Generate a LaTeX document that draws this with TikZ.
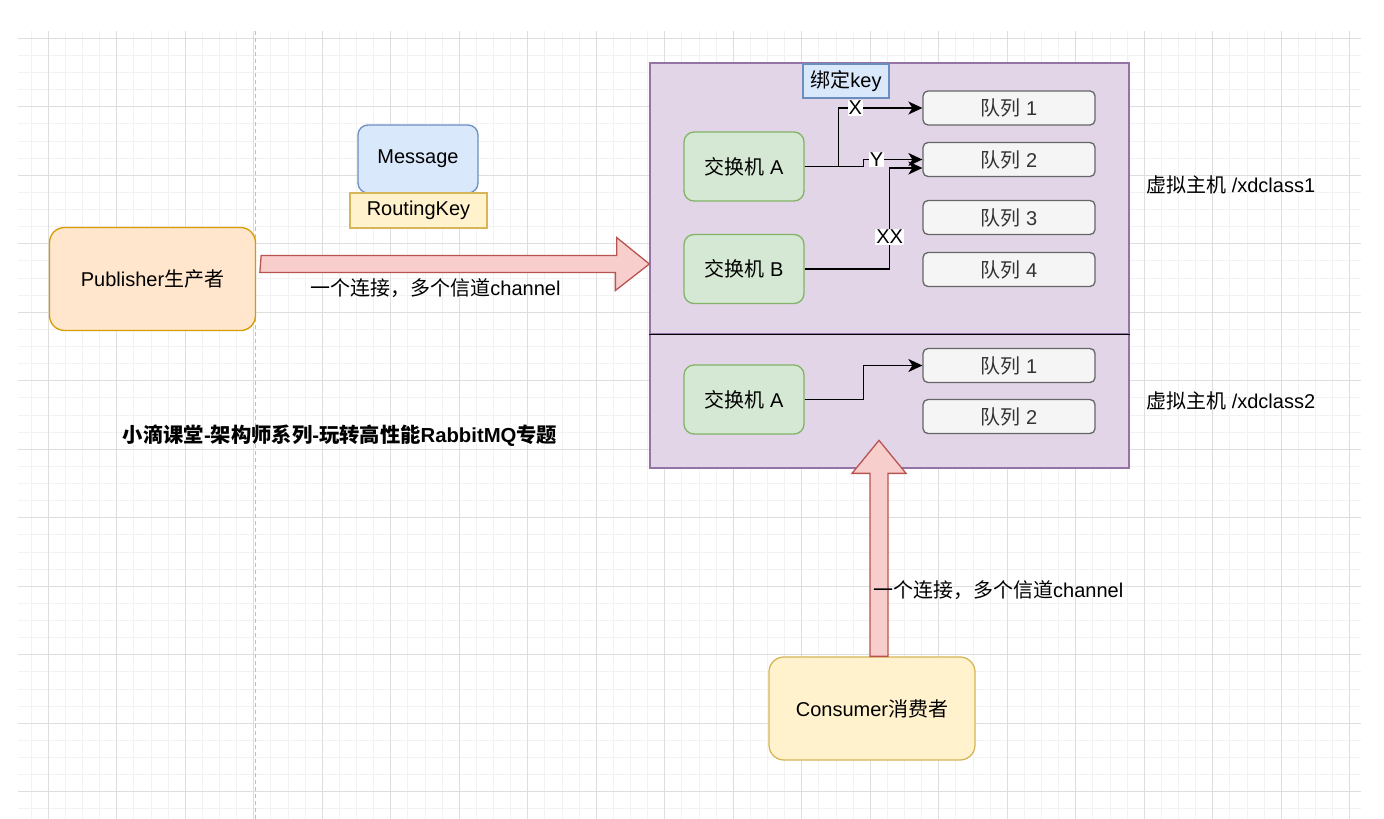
\documentclass[tikz,border=0pt]{standalone}
\usepackage{fontspec}
\setmainfont{Liberation Sans}
\newfontfamily\cjkfont{Noto Sans CJK SC}
\newcommand{\zh}[1]{{\cjkfont #1}}
\usepackage{xcolor}
\usepackage{tikz}
\usetikzlibrary{arrows.meta,calc}

\definecolor{pubfill}{HTML}{FFE6CC}\definecolor{publine}{HTML}{D79B00}
\definecolor{msgfill}{HTML}{DAE8FC}\definecolor{msgline}{HTML}{6C8EBF}
\definecolor{keyfill}{HTML}{FFF2CC}\definecolor{keyline}{HTML}{D6B656}
\definecolor{vhfill}{HTML}{E1D5E7}\definecolor{vhline}{HTML}{9673A6}
\definecolor{exfill}{HTML}{D5E8D4}\definecolor{exline}{HTML}{82B366}
\definecolor{qfill}{HTML}{F5F5F5}\definecolor{qline}{HTML}{666666}
\definecolor{fatfill}{HTML}{F8CECC}\definecolor{fatline}{HTML}{B85450}

\tikzset{
  minorgrid/.style={draw=black!5,line width=1},
  majorgrid/.style={draw=black!13,line width=1},
  box/.style={draw,line width=1.3,inner sep=0,align=center},
  exbox/.style={box,fill=exfill,draw=exline,rounded corners=10,minimum width=120,minimum height=69},
  qbox/.style={box,fill=qfill,draw=qline,text=black!80,rounded corners=5,minimum width=172,minimum height=34},
  link/.style={line width=1.5,-{Stealth[length=14pt,width=13pt,inset=4pt]}},
  tag/.style={fill=white,inner sep=1},
  fat/.style={fill=fatfill,draw=fatline,line width=1.3,line join=miter},
}

\begin{document}
\begin{tikzpicture}[x=1pt,y=-1pt,every node/.style={font=\fontsize{20}{24}\selectfont}]
  \fill[white] (0,0) rectangle (1384,819);
  \useasboundingbox (0,0) rectangle (1384,819);
  % grid
  \foreach \k in {-1,...,76}
    \draw[minorgrid] ({48.3+17.125*\k},31) -- ({48.3+17.125*\k},819);
  \foreach \k in {0,...,45}
    \draw[minorgrid] (18,{38.3+17.125*\k}) -- (1361,{38.3+17.125*\k});
  \foreach \k in {0,...,19}
    \draw[majorgrid] ({48.3+68.5*\k},31) -- ({48.3+68.5*\k},819);
  \foreach \k in {0,...,11}
    \draw[majorgrid] (18,{38.3+68.5*\k}) -- (1361,{38.3+68.5*\k});
  \draw[black!25,line width=1,dash pattern=on 4 off 3] (255,31) -- (255,819);

  % publisher side
  \node[box,fill=pubfill,draw=publine,rounded corners=15,minimum width=206,minimum height=103] (pub) at (152.5,279) {Publisher\zh{生产者}};
  \node[box,fill=msgfill,draw=msgline,rounded corners=10,minimum width=120,minimum height=68] (msg) at (418,159) {Message};
  \node[box,fill=keyfill,draw=keyline,minimum width=137,minimum height=35] (rkey) at (418.5,210.5) {RoutingKey};
  \node (title) at (340,436) {\fontsize{20.3}{24}\selectfont\bfseries\zh{小滴课堂}-\zh{架构师系列}-\zh{玩转高性能}RabbitMQ\zh{专题}};

  % virtual hosts
  \node[box,fill=vhfill,draw=vhline,minimum width=479,minimum height=271] (vh1) at (889.5,198.5) {};
  \node[box,fill=vhfill,draw=vhline,minimum width=479,minimum height=134] (vh2) at (889.5,401) {};
  \draw[line width=1.5] (vh1.south west) -- (vh1.south east);
  \node[anchor=west,inner sep=0] (vh1lbl) at (1146,185) {\zh{虚拟主机} /xdclass1};
  \node[anchor=west,inner sep=0] (vh2lbl) at (1146,401) {\zh{虚拟主机} /xdclass2};

  \node[box,fill=msgfill,draw=msgline,minimum width=86,minimum height=34] (bind) at (846,81) {\zh{绑定}key};
  \node[exbox] (exA) at (744,166.5) {\zh{交换机} A};
  \node[exbox] (exB) at (744,269) {\zh{交换机} B};
  \node[qbox] (q1) at (1009,108) {\zh{队列} 1};
  \node[qbox] (q2) at (1009,159.5) {\zh{队列} 2};
  \node[qbox] (q3) at (1009,217.5) {\zh{队列} 3};
  \node[qbox] (q4) at (1009,269.5) {\zh{队列} 4};

  \node[exbox] (exA2) at (744,399.5) {\zh{交换机} A};
  \node[qbox] (q21) at (1009,365.5) {\zh{队列} 1};
  \node[qbox] (q22) at (1009,416.5) {\zh{队列} 2};

  % bindings
  \draw[link] (exA.east) -- ++(34,0) |- node[pos=0.6,tag] {X} (q1.west);
  \draw[link] (exA.east) -- ++(59,0) |- node[pos=0.61,tag] {Y} (q2.west);
  \draw[link] (exB.east) -- ++(85,0) |- node[pos=0.16,tag] {XX} ([yshift=-8.5pt]q2.west);
  \draw[link] (exA2.east) -- ++(59,0) |- (q21.west);

  % connections
  \coordinate (pubout) at ($(pub.east)+(5,-15)$);
  \draw[fat] (pubout) ++(0,-8.5) -- ++(355.5,0) -- ++(0,-18) -- (vh1.west |- pubout)
    -- ++(-34,26.5) -- ++(0,-18) -- ++(-355.5,0) -- cycle;
  \node (chan1) at (435.5,288) {\zh{一个连接，多个信道}channel};

  \node[box,fill=keyfill,draw=keyline,rounded corners=15,minimum width=206,minimum height=103] (con) at (872,708.5) {Consumer\zh{消费者}};
  \coordinate (conout) at ($(con.north)+(7,0)$);
  \draw[fat] (conout) ++(-9,0) -- ++(0,-183) -- ++(-18,0) -- ++(27,-33)
    -- ++(27,33) -- ++(-18,0) -- ++(0,183) -- cycle;
  \node[anchor=west,inner sep=0] (chan2) at (873,590) {\zh{一个连接，多个信道}channel};
\end{tikzpicture}
\end{document}
